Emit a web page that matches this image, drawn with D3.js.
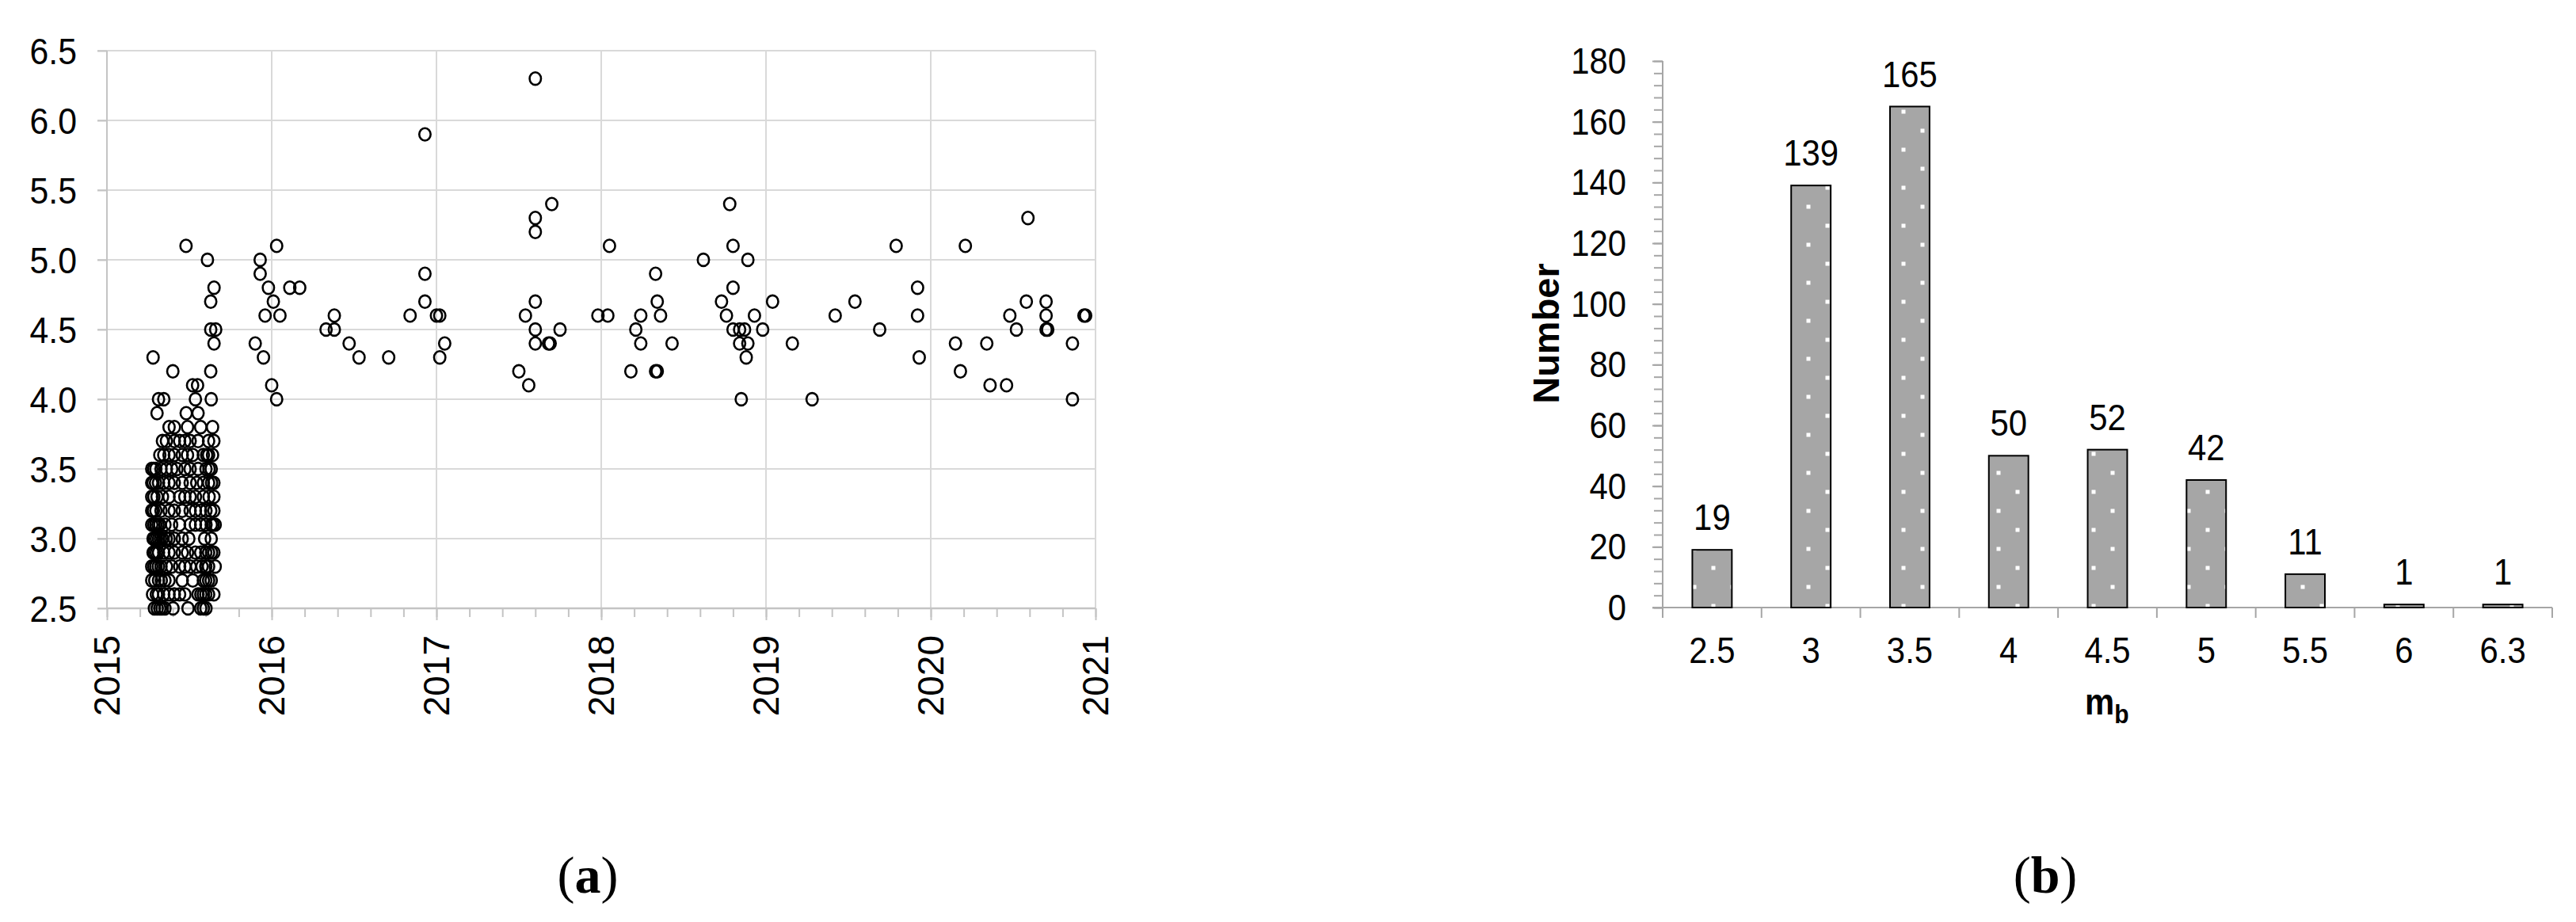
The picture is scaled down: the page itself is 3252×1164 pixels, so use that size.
<!DOCTYPE html>
<html>
<head>
<meta charset="utf-8">
<script src="https://cdn.jsdelivr.net/npm/d3@7"></script>
<style>
  body { margin: 0; background: #fff; }
  svg text { font-family: "Liberation Sans", Arial, sans-serif; fill: #000; }
  .serif { font-family: "Liberation Serif", "Times New Roman", serif; }
</style>
</head>
<body>
<svg id="fig" width="3252" height="1164"></svg>
<script>
// ---- data (a): dense 2015 swarm, one row of dates per magnitude ----
var clusterMags = [2.5, 2.6, 2.7, 2.8, 2.9, 3.0, 3.1, 3.2, 3.3, 3.4, 3.5, 3.6, 3.7, 3.8, 3.9, 4.0];
var clusterDates = [
  [2015.288, 2015.305, 2015.321, 2015.335, 2015.352, 2015.401, 2015.492, 2015.569, 2015.585, 2015.601],
  [2015.277, 2015.300, 2015.313, 2015.345, 2015.377, 2015.409, 2015.441, 2015.473, 2015.553, 2015.570, 2015.585, 2015.600, 2015.617, 2015.649],
  [2015.272, 2015.290, 2015.313, 2015.330, 2015.352, 2015.377, 2015.457, 2015.521, 2015.585, 2015.600, 2015.617, 2015.633],
  [2015.272, 2015.285, 2015.297, 2015.312, 2015.328, 2015.361, 2015.393, 2015.441, 2015.473, 2015.505, 2015.545, 2015.577, 2015.600, 2015.617, 2015.657],
  [2015.280, 2015.288, 2015.300, 2015.313, 2015.345, 2015.377, 2015.409, 2015.457, 2015.489, 2015.537, 2015.569, 2015.600, 2015.617, 2015.635, 2015.649],
  [2015.280, 2015.288, 2015.300, 2015.313, 2015.325, 2015.337, 2015.360, 2015.377, 2015.409, 2015.457, 2015.497, 2015.593, 2015.633],
  [2015.272, 2015.285, 2015.297, 2015.310, 2015.321, 2015.352, 2015.393, 2015.441, 2015.505, 2015.537, 2015.569, 2015.601, 2015.633, 2015.645, 2015.657],
  [2015.272, 2015.282, 2015.297, 2015.328, 2015.377, 2015.409, 2015.457, 2015.505, 2015.537, 2015.569, 2015.601, 2015.630, 2015.649],
  [2015.272, 2015.285, 2015.304, 2015.337, 2015.377, 2015.441, 2015.473, 2015.505, 2015.537, 2015.585, 2015.620, 2015.649],
  [2015.272, 2015.280, 2015.295, 2015.313, 2015.345, 2015.377, 2015.409, 2015.457, 2015.505, 2015.545, 2015.585, 2015.617, 2015.635, 2015.649],
  [2015.272, 2015.284, 2015.297, 2015.328, 2015.361, 2015.393, 2015.425, 2015.473, 2015.505, 2015.553, 2015.601, 2015.620, 2015.633],
  [2015.321, 2015.345, 2015.377, 2015.409, 2015.457, 2015.489, 2015.521, 2015.585, 2015.605, 2015.617, 2015.641],
  [2015.337, 2015.361, 2015.409, 2015.441, 2015.473, 2015.505, 2015.553, 2015.617, 2015.649],
  [2015.377, 2015.409, 2015.489, 2015.569, 2015.641],
  [2015.304, 2015.481, 2015.553],
  [2015.313, 2015.345, 2015.537, 2015.633]
];

// ---- data (a): the scattered larger events ----
var eventDates = [
  2015.28, 2015.40, 2015.48, 2015.52, 2015.55, 2015.61, 2015.63, 2015.65, 2015.63, 2015.66, 2015.65, 2015.63,
  2015.90, 2015.93, 2015.93, 2015.95, 2015.98, 2015.96, 2016.01, 2016.00, 2016.03, 2016.03, 2016.05,
  2016.11, 2016.17, 2016.33, 2016.38, 2016.38, 2016.47, 2016.53, 2016.71, 2016.84,
  2016.93, 2016.93, 2016.93, 2017.00, 2017.02, 2017.02, 2017.05,
  2017.50, 2017.56, 2017.54, 2017.60, 2017.60, 2017.60, 2017.60, 2017.60, 2017.60,
  2017.68, 2017.69, 2017.70, 2017.75, 2017.98, 2018.04, 2018.05,
  2018.18, 2018.21, 2018.24, 2018.24, 2018.33, 2018.34, 2018.33, 2018.34, 2018.36, 2018.43,
  2018.62, 2018.73, 2018.76, 2018.78, 2018.80, 2018.80, 2018.80, 2018.84, 2018.84, 2018.87,
  2018.89, 2018.89, 2018.88, 2018.85, 2018.93, 2018.98, 2019.04, 2019.16, 2019.28,
  2019.42, 2019.54, 2019.69, 2019.79, 2019.92, 2019.92, 2019.93,
  2020.15, 2020.18, 2020.21, 2020.34, 2020.36, 2020.46, 2020.48, 2020.52, 2020.58, 2020.59,
  2020.70, 2020.70, 2020.70, 2020.71, 2020.86, 2020.86, 2020.93, 2020.94
];
var eventMags = [
  4.3, 4.2, 5.1, 4.1, 4.1, 5.0, 4.7, 4.8, 4.5, 4.5, 4.4, 4.2,
  4.4, 5.0, 4.9, 4.3, 4.8, 4.6, 4.7, 4.1, 5.1, 4.0, 4.6,
  4.8, 4.8, 4.5, 4.5, 4.6, 4.4, 4.3, 4.3, 4.6,
  5.9, 4.9, 4.7, 4.6, 4.6, 4.3, 4.4,
  4.2, 4.1, 4.6, 6.3, 5.3, 5.2, 4.7, 4.5, 4.4,
  4.4, 4.4, 5.4, 4.5, 4.6, 4.6, 5.1,
  4.2, 4.5, 4.4, 4.6, 4.9, 4.7, 4.2, 4.2, 4.6, 4.4,
  5.0, 4.7, 4.6, 5.4, 5.1, 4.8, 4.5, 4.5, 4.4, 4.5,
  5.0, 4.4, 4.3, 4.0, 4.6, 4.5, 4.7, 4.4, 4.0,
  4.6, 4.7, 4.5, 5.1, 4.8, 4.6, 4.3,
  4.4, 4.2, 5.1, 4.4, 4.1, 4.1, 4.6, 4.5, 4.7, 5.3,
  4.7, 4.6, 4.5, 4.5, 4.4, 4.0, 4.6, 4.6
];
var yearTicks = [2015, 2016, 2017, 2018, 2019, 2020, 2021];
var magTicks = [2.5, 3.0, 3.5, 4.0, 4.5, 5.0, 5.5, 6.0, 6.5];

// ---- data (b): histogram ----
var magBins = ["2.5", "3", "3.5", "4", "4.5", "5", "5.5", "6", "6.3"];
var binCounts = [19, 139, 165, 50, 52, 42, 11, 1, 1];
var countTicks = [0, 20, 40, 60, 80, 100, 120, 140, 160, 180];

var svg = d3.select("#fig");
var grid = "#d9d9d9", axisCol = "#a6a6a6";

// horizontal text is a bit condensed in the original
function hText(parent, x, y, str, anchor, size, weight) {
  return parent.append("text")
    .attr("transform", "translate(" + x + "," + y + ") scale(0.91,1)")
    .attr("text-anchor", anchor)
    .style("font-size", size + "px")
    .style("font-weight", weight || "normal")
    .text(str);
}

// ================= (a) scatter =================
var xA = d3.scaleLinear().domain([2015, 2021]).range([135, 1383]);
var yA = d3.scaleLinear().domain([2.5, 6.5]).range([768, 64]);
var gA = svg.append("g");

// gridlines
gA.append("g").selectAll("line").data(magTicks).enter().append("line")
  .attr("x1", 123).attr("x2", xA(2021))
  .attr("y1", function(d){ return yA(d); }).attr("y2", function(d){ return yA(d); })
  .attr("stroke", grid).attr("stroke-width", 2);
gA.append("g").selectAll("line").data(yearTicks.slice(1)).enter().append("line")
  .attr("x1", function(d){ return xA(d); }).attr("x2", function(d){ return xA(d); })
  .attr("y1", yA(6.5)).attr("y2", yA(2.5))
  .attr("stroke", grid).attr("stroke-width", 2);

// axes
var axL = gA.append("g").attr("transform", "translate(" + xA(2015) + ",0)")
  .call(d3.axisLeft(yA).tickValues(magTicks).tickSize(12).tickFormat(""));
var axBmin = gA.append("g").attr("transform", "translate(0," + yA(2.5) + ")")
  .call(d3.axisBottom(xA).tickValues(d3.range(2015, 2021.01, 0.2)).tickSize(11).tickFormat(""));
var axB = gA.append("g").attr("transform", "translate(0," + yA(2.5) + ")")
  .call(d3.axisBottom(xA).tickValues(yearTicks).tickSize(15).tickFormat(""));
[axL, axBmin, axB].forEach(function(a){
  a.selectAll("path,line").attr("stroke", "#c4c4c4").attr("stroke-width", 2);
  a.select(".domain").attr("d", null);
});
gA.append("line").attr("x1", xA(2015)).attr("x2", xA(2015)).attr("y1", yA(6.5)).attr("y2", yA(2.5))
  .attr("stroke", "#c4c4c4").attr("stroke-width", 2);
gA.append("line").attr("x1", xA(2015)).attr("x2", xA(2021)).attr("y1", yA(2.5)).attr("y2", yA(2.5))
  .attr("stroke", "#c4c4c4").attr("stroke-width", 2.5);

magTicks.forEach(function(v){ hText(gA, 97, yA(v) + 17, d3.format(".1f")(v), "end", 47); });
yearTicks.forEach(function(v){
  gA.append("text")
    .attr("transform", "translate(" + (xA(v) + 16) + "," + (yA(2.5) + 34) + ") rotate(-90)")
    .attr("text-anchor", "end").style("font-size", "46px").text(v);
});

// points
var pts = [];
clusterDates.forEach(function(row, i){
  row.forEach(function(d){ pts.push({ t: d, m: clusterMags[i] }); });
});
eventDates.forEach(function(d, i){ pts.push({ t: d, m: eventMags[i] }); });
gA.append("g").selectAll("ellipse").data(pts).enter().append("ellipse")
  .attr("cx", function(d){ return xA(d.t); })
  .attr("cy", function(d){ return yA(d.m); })
  .attr("rx", 7.2).attr("ry", 7.9)
  .attr("fill", "none").attr("stroke", "#000").attr("stroke-width", 2.6);

// ================= (b) histogram =================
var xB = d3.scaleBand().domain(magBins).range([2099, 3222]).paddingInner(0.6).paddingOuter(0.3);
var yB = d3.scaleLinear().domain([0, 180]).range([767, 77]);
var gB = svg.append("g");
var step = xB.step();

var defs = svg.append("defs");
var pat = defs.append("pattern").attr("id", "dots").attr("patternUnits", "userSpaceOnUse")
  .attr("x", 2136.5).attr("y", 738.5).attr("width", 48).attr("height", 48);
pat.append("rect").attr("width", 48).attr("height", 48).attr("fill", "#a6a6a6");
pat.append("rect").attr("x", 0).attr("y", 0).attr("width", 5).attr("height", 5).attr("fill", "#fff");
pat.append("rect").attr("x", 24).attr("y", 24).attr("width", 5).attr("height", 5).attr("fill", "#fff");

var ayMin = gB.append("g").attr("transform", "translate(" + xB.range()[0] + ",0)")
  .call(d3.axisLeft(yB).tickValues(d3.range(0, 181, 4)).tickSize(11).tickFormat(""));
var ay = gB.append("g").attr("transform", "translate(" + xB.range()[0] + ",0)")
  .call(d3.axisLeft(yB).tickValues(countTicks).tickSize(13).tickFormat(""));
[ayMin, ay].forEach(function(a){
  a.selectAll("path,line").attr("stroke", axisCol).attr("stroke-width", 2);
});
ay.select(".domain").attr("d", "M0," + yB(180) + "V" + yB(0));
ayMin.select(".domain").remove();

// category axis with ticks at band edges
gB.append("line").attr("x1", xB.range()[0] - 13).attr("x2", xB.range()[1])
  .attr("y1", yB(0)).attr("y2", yB(0)).attr("stroke", axisCol).attr("stroke-width", 2);
var edges = magBins.map(function(c){ return xB(c) - step * 0.3; }).concat([xB.range()[1]]);
gB.append("g").selectAll("line").data(edges).enter().append("line")
  .attr("x1", function(d){ return d; }).attr("x2", function(d){ return d; })
  .attr("y1", yB(0)).attr("y2", yB(0) + 13)
  .attr("stroke", axisCol).attr("stroke-width", 2);

gB.append("g").selectAll("rect").data(binCounts).enter().append("rect")
  .attr("x", function(d, i){ return xB(magBins[i]); })
  .attr("width", xB.bandwidth())
  .attr("y", function(d){ return yB(d); })
  .attr("height", function(d){ return yB(0) - yB(d); })
  .attr("fill", "url(#dots)").attr("stroke", "#000").attr("stroke-width", 2);

countTicks.forEach(function(v){ hText(gB, 2053, yB(v) + 16, v, "end", 46); });
magBins.forEach(function(c){ hText(gB, xB(c) + xB.bandwidth() / 2, 837, c, "middle", 46); });
binCounts.forEach(function(v, i){
  hText(gB, xB(magBins[i]) + xB.bandwidth() / 2, yB(v) - 25, v, "middle", 46);
});

gB.append("text").attr("transform", "translate(1968,421) rotate(-90)")
  .attr("text-anchor", "middle").style("font-size", "47px").style("font-weight", "bold").text("Number");
var mb = gB.append("text").attr("transform", "translate(2632,902) scale(0.91,1)")
  .style("font-weight", "bold");
mb.append("tspan").style("font-size", "46px").text("m");
mb.append("tspan").attr("dy", 11).style("font-size", "33px").text("b");

// ================= panel captions =================
[["a", 742], ["b", 2582]].forEach(function(p){
  var t = svg.append("text").attr("class", "serif").attr("x", p[1]).attr("y", 1127)
    .attr("text-anchor", "middle").style("font-size", "66px");
  t.append("tspan").text("(");
  t.append("tspan").style("font-weight", "bold").text(p[0]);
  t.append("tspan").text(")");
});
</script>
</body>
</html>
